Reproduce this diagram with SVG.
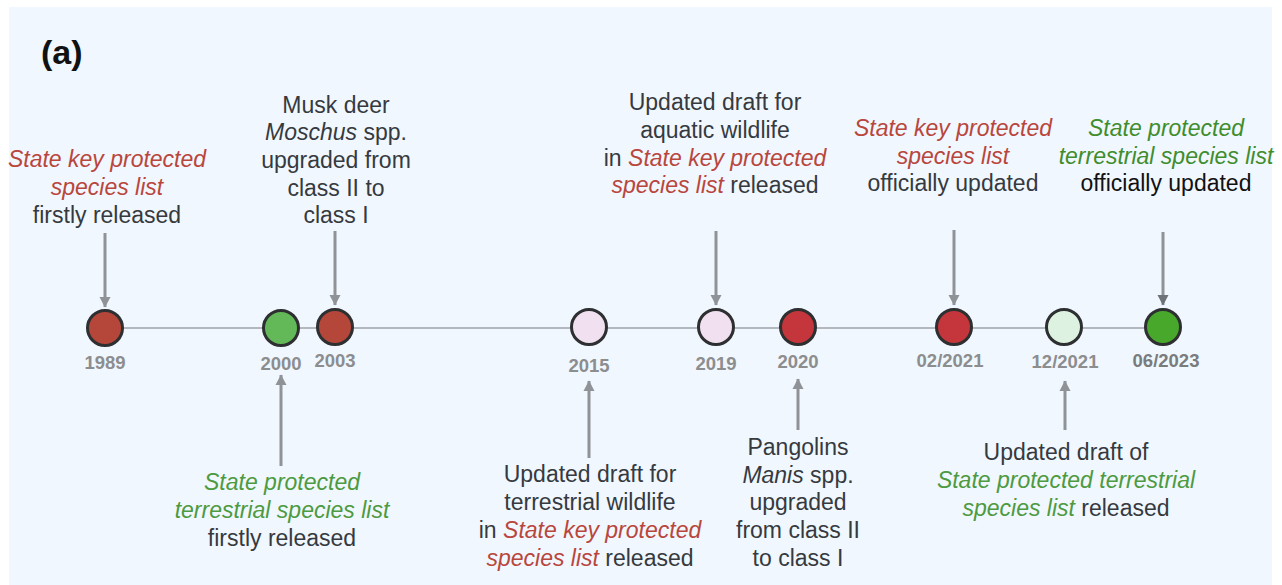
<svg xmlns="http://www.w3.org/2000/svg" width="1282" height="585" viewBox="0 0 1282 585">
  <style>
    .lbl { font-family: "Liberation Sans", Arial, sans-serif; font-size: 23px; fill: #363a3e; text-anchor: middle; }
    .red { fill: #b9463c; font-style: italic; }
    .grn { fill: #4d9a40; font-style: italic; }
    .dgrn { fill: #3f8d2c; font-style: italic; }
    .it { font-style: italic; }
    .blk { fill: #111; }
    .year { font-family: "Liberation Sans", Arial, sans-serif; font-size: 18.5px; font-weight: bold; fill: #8c8d8f; text-anchor: middle; }
    .node circle { stroke: #2d2f31; stroke-width: 3; }
    .arrow { stroke: #8f9296; stroke-width: 3; fill: none; marker-end: url(#head); }
  </style>
  <defs>
    <marker id="head" markerUnits="userSpaceOnUse" markerWidth="12" markerHeight="12" viewBox="0 0 12 12" refX="10" refY="6" orient="auto">
      <path d="M0,0.5 L10.5,6 L0,11.5 Z" fill="#8f9296"/>
    </marker>
    <marker id="headDark" markerUnits="userSpaceOnUse" markerWidth="12" markerHeight="12" viewBox="0 0 12 12" refX="10" refY="6" orient="auto">
      <path d="M0,0.5 L10.5,6 L0,11.5 Z" fill="#6e7175"/>
    </marker>
  </defs>

  <!-- panel background -->
  <rect x="9" y="7" width="1263" height="578" fill="#f0f7fe"/>

  <text x="41" y="64" font-family="Liberation Sans, Arial, sans-serif" font-size="34" font-weight="bold" fill="#111">(a)</text>

  <!-- timeline axis and arrows -->
  <g id="connectors">
    <line x1="105" y1="328" x2="1163" y2="328" stroke="#9fa3a8" stroke-width="1.5"/>
    <line class="arrow" x1="105" y1="233" x2="105" y2="307"/>
    <line class="arrow" x1="335" y1="231" x2="335" y2="305"/>
    <line class="arrow" x1="716" y1="231" x2="716" y2="305"/>
    <line class="arrow" x1="954" y1="230" x2="954" y2="305"/>
    <line class="arrow" x1="1163" y1="232" x2="1163" y2="305" stroke="#6e7175" style="marker-end:url(#headDark)"/>
    <line class="arrow" x1="281" y1="466" x2="281" y2="375"/>
    <line class="arrow" x1="589" y1="458" x2="589" y2="381"/>
    <line class="arrow" x1="798" y1="430" x2="798" y2="379"/>
    <line class="arrow" x1="1065" y1="430" x2="1065" y2="381"/>
  </g>

  <!-- events on the timeline -->
  <g id="n1989" class="node">
    <circle cx="105" cy="328" r="17.5" fill="#b5463a"/>
    <text class="year" x="105" y="369">1989</text>
  </g>
  <g id="n2000" class="node">
    <circle cx="281" cy="328" r="17.5" fill="#63b857"/>
    <text class="year" x="281" y="370">2000</text>
  </g>
  <g id="n2003" class="node">
    <circle cx="335" cy="327" r="17.5" fill="#b5463a"/>
    <text class="year" x="335" y="367">2003</text>
  </g>
  <g id="n2015" class="node">
    <circle cx="589" cy="327" r="17.5" fill="#f1e0f0"/>
    <text class="year" x="589" y="372">2015</text>
  </g>
  <g id="n2019" class="node">
    <circle cx="716" cy="327" r="17.5" fill="#f1e0f0"/>
    <text class="year" x="716" y="370">2019</text>
  </g>
  <g id="n2020" class="node">
    <circle cx="798" cy="327" r="17.5" fill="#c4363b"/>
    <text class="year" x="798" y="368">2020</text>
  </g>
  <g id="n2021a" class="node">
    <circle cx="954" cy="327" r="17.5" fill="#c4363b"/>
    <text class="year" x="950" y="367">02/2021</text>
  </g>
  <g id="n2021b" class="node">
    <circle cx="1064" cy="327" r="17.5" fill="#ddf2e0"/>
    <text class="year" x="1065" y="368">12/2021</text>
  </g>
  <g id="n2023" class="node">
    <circle cx="1163" cy="327" r="17.5" fill="#47a82b"/>
    <text class="year" x="1166" y="367" style="fill:#7a7b7d">06/2023</text>
  </g>

  <!-- event descriptions above the axis -->
  <g id="t1989">
    <text class="lbl" x="107" y="167"><tspan class="red">State key protected</tspan></text>
    <text class="lbl" x="107" y="195"><tspan class="red">species list</tspan></text>
    <text class="lbl" x="107" y="223">firstly released</text>
  </g>
  <g id="t2003">
    <text class="lbl" x="336" y="113">Musk deer</text>
    <text class="lbl" x="336" y="140"><tspan class="it">Moschus</tspan> spp.</text>
    <text class="lbl" x="336" y="168">upgraded from</text>
    <text class="lbl" x="336" y="196">class II to</text>
    <text class="lbl" x="336" y="223">class I</text>
  </g>
  <g id="t2019">
    <text class="lbl" x="715" y="110">Updated draft for</text>
    <text class="lbl" x="715" y="138">aquatic wildlife</text>
    <text class="lbl" x="715" y="166">in <tspan class="red">State key protected</tspan></text>
    <text class="lbl" x="715" y="193"><tspan class="red">species list</tspan> released</text>
  </g>
  <g id="t2021a">
    <text class="lbl" x="953" y="136"><tspan class="red">State key protected</tspan></text>
    <text class="lbl" x="953" y="164"><tspan class="red">species list</tspan></text>
    <text class="lbl" x="953" y="191">officially updated</text>
  </g>
  <g id="t2023">
    <text class="lbl" x="1166" y="136"><tspan class="dgrn">State protected</tspan></text>
    <text class="lbl" x="1166" y="164"><tspan class="dgrn">terrestrial species list</tspan></text>
    <text class="lbl blk" x="1166" y="191">officially updated</text>
  </g>

  <!-- event descriptions below the axis -->
  <g id="t2000">
    <text class="lbl" x="282" y="490"><tspan class="grn">State protected</tspan></text>
    <text class="lbl" x="282" y="518"><tspan class="grn">terrestrial species list</tspan></text>
    <text class="lbl" x="282" y="546">firstly released</text>
  </g>
  <g id="t2015">
    <text class="lbl" x="590" y="482">Updated draft for</text>
    <text class="lbl" x="590" y="510">terrestrial wildlife</text>
    <text class="lbl" x="590" y="538">in <tspan class="red">State key protected</tspan></text>
    <text class="lbl" x="590" y="566"><tspan class="red">species list</tspan> released</text>
  </g>
  <g id="t2020">
    <text class="lbl" x="798" y="455">Pangolins</text>
    <text class="lbl" x="798" y="483"><tspan class="it">Manis</tspan> spp.</text>
    <text class="lbl" x="798" y="510">upgraded</text>
    <text class="lbl" x="798" y="538">from class II</text>
    <text class="lbl" x="798" y="566">to class I</text>
  </g>
  <g id="t2021b">
    <text class="lbl" x="1066" y="460">Updated draft of</text>
    <text class="lbl" x="1066" y="488"><tspan class="grn">State protected terrestrial</tspan></text>
    <text class="lbl" x="1066" y="516"><tspan class="grn">species list</tspan> released</text>
  </g>
</svg>
